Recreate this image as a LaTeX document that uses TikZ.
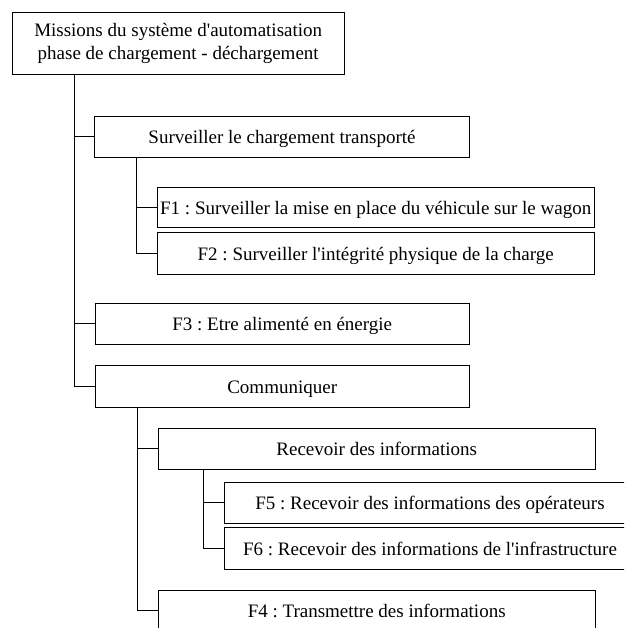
\documentclass[tikz,border=0pt]{standalone}
\usepackage{fontspec}
\setmainfont{Liberation Serif}[Ligatures=TeXOff]
\frenchspacing
\begin{document}
\begin{tikzpicture}[x=1pt,y=-1pt,
  box/.style={draw=black, line width=1pt, inner sep=0pt, font=\fontsize{19}{22.5}\selectfont\frenchspacing, align=center},
  onel/.style={text height=17pt, text depth=3pt},
  link/.style={draw=black, line width=1pt}]
\useasboundingbox (0,0) rectangle (624,628);
\clip (0,0) rectangle (624,628);
% nodes
\node[box, minimum width=332.3pt, minimum height=61.7pt] (top) at (178.2,43.2)
  {Missions du système d'automatisation\\phase de chargement - déchargement};
\node[box, onel, minimum width=374.6pt, minimum height=41.3pt] (S) at (282,136.7)
  {Surveiller le chargement transporté};
\node[box, onel, minimum width=436.7pt, minimum height=40.4pt] (F1) at (375.7,207.5)
  {F1 : Surveiller la mise en place du véhicule sur le wagon};
\node[box, onel, minimum width=436.7pt, minimum height=42pt] (F2) at (375.7,253.3)
  {F2 : Surveiller l'intégrité physique de la charge};
\node[box, onel, minimum width=374.3pt, minimum height=41pt] (F3) at (282.2,323.8)
  {F3 : Etre alimenté en énergie};
\node[box, onel, minimum width=374.3pt, minimum height=41.6pt] (C) at (282.2,386.5)
  {Communiquer};
\node[box, onel, minimum width=436.7pt, minimum height=41pt] (R) at (376.7,448.8)
  {Recevoir des informations};
\node[box, onel, minimum width=412pt, minimum height=41pt] (F5) at (430,502.8)
  {F5 : Recevoir des informations des opérateurs};
\node[box, onel, minimum width=412pt, minimum height=41.6pt] (F6) at (430,548.5)
  {F6 : Recevoir des informations de l'infrastructure};
\node[box, onel, minimum width=436.7pt, minimum height=41pt] (F4) at (376.7,610.5)
  {F4 : Transmettre des informations};
% trunk x positions
\coordinate (tx) at (74,0);
\coordinate (sx) at (136.7,0);
\coordinate (cx) at (137.3,0);
\coordinate (rx) at (203.3,0);
% connectors
\draw[link] (top.south -| tx) |- (C.west);
\draw[link] (S.west -| tx) -- (S.west);
\draw[link] (F3.west -| tx) -- (F3.west);
\draw[link] (S.south -| sx) |- (F2.west);
\draw[link] (F1.west -| sx) -- (F1.west);
\draw[link] (C.south -| cx) |- (F4.west);
\draw[link] (R.west -| cx) -- (R.west);
\draw[link] (R.south -| rx) |- (F6.west);
\draw[link] (F5.west -| rx) -- (F5.west);
\end{tikzpicture}
\end{document}
